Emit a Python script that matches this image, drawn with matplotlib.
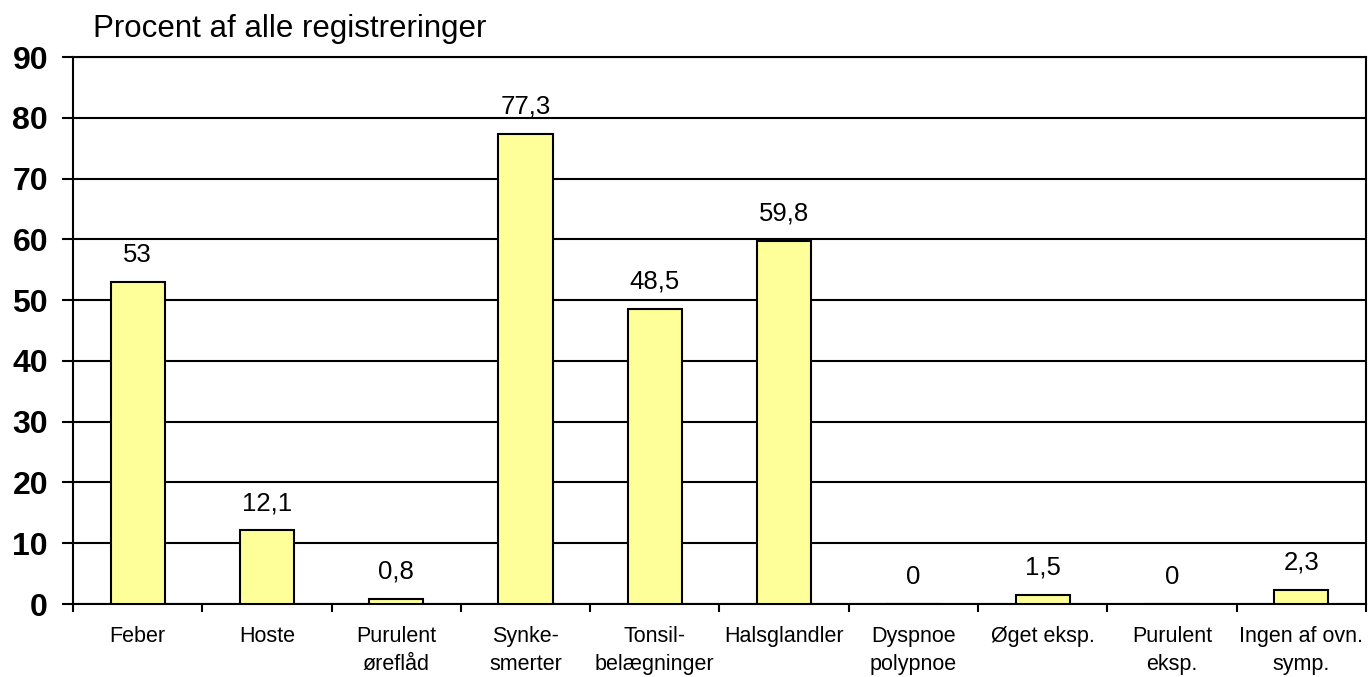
import numpy as np
import matplotlib.pyplot as plt

plt.rcParams['font.family'] = ['Liberation Sans', 'DejaVu Sans']

categories = ['Feber', 'Hoste', 'Purulent\nøreflåd', 'Synke-\nsmerter', 'Tonsil-\nbelægninger',
              'Halsglandler', 'Dyspnoe\npolypnoe', 'Øget eksp.', 'Purulent\neksp.', 'Ingen af ovn.\nsymp.']
values = [53, 12.1, 0.8, 77.3, 48.5, 59.8, 0, 1.5, 0, 2.3]
value_labels = ['53', '12,1', '0,8', '77,3', '48,5', '59,8', '0', '1,5', '0', '2,3']
yticks = np.arange(0, 91, 10)

fig = plt.figure(figsize=(13.7, 6.77), dpi=100)
ax = fig.add_axes([0.0533, 0.1078, 0.9437, 0.808])

x = np.arange(len(categories))
bars = ax.bar(x, values, width=0.42, color='#FFFF99', edgecolor='black', linewidth=1.5, zorder=3)

for xi, v, lab in zip(x, values, value_labels):
    ax.annotate(lab, (xi, v), xytext=(0, 11), textcoords='offset points',
                ha='center', va='bottom', fontsize=18.5)

ax.set_xlim(-0.5, len(categories) - 0.5)
ax.set_ylim(0, 90)
ax.set_yticks(yticks)
ax.set_yticklabels([str(t) for t in yticks], fontsize=23, fontweight='bold')
ax.yaxis.grid(True, color='black', linewidth=1.5, zorder=0)
ax.tick_params(axis='y', length=8, width=1.5, pad=10)

ax.set_xticks(x)
ax.set_xticklabels(categories, fontsize=15.5, linespacing=1.45, va='top')
ax.tick_params(axis='x', which='major', length=0, pad=16)
ax.set_xticks(np.arange(-0.5, len(categories), 1), minor=True)
ax.tick_params(axis='x', which='minor', length=6, width=1.5)

for side in ['left', 'right', 'bottom', 'top']:
    ax.spines[side].set_linewidth(1.5)
    ax.spines[side].set_color('black')

fig.text(0.068, 0.935, 'Procent af alle registreringer', fontsize=22.5, ha='left', va='bottom')

fig.savefig('out.png', dpi=100)
